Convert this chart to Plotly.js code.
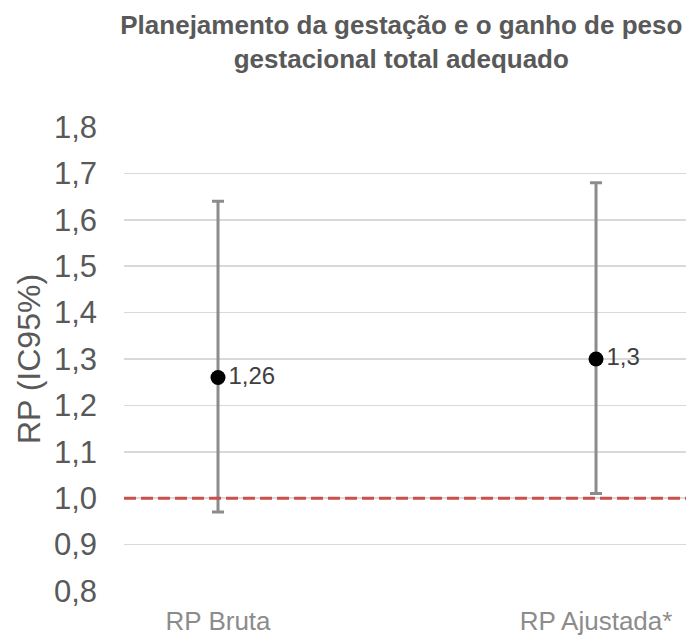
<!DOCTYPE html>
<html>
<head>
<meta charset="utf-8">
<script src="https://cdn.plot.ly/plotly-3.0.1.min.js"></script>
<style>
html,body{margin:0;padding:0;background:#fff;}
#chart{width:686px;height:637px;}
</style>
</head>
<body>
<div id="chart"></div>
<script>
const categories = ["RP Bruta", "RP Ajustada*"];
const rpValues = [1.26, 1.3];
const ciLower = [0.97, 1.01];
const ciUpper = [1.64, 1.68];
const valueLabels = ["1,26", "1,3"];
const referenceValue = [1.0];
const yTickVals = [0.8, 0.9, 1.0, 1.1, 1.2, 1.3, 1.4, 1.5, 1.6, 1.7, 1.8];
const yTickText = ["0,8", "0,9", "1,0", "1,1", "1,2", "1,3", "1,4", "1,5", "1,6", "1,7", "1,8"];

const xIdx = categories.map((c, i) => i);
const FONT = "Liberation Sans, Arial, sans-serif";

const trace = {
  type: "scatter",
  mode: "markers+text",
  x: xIdx,
  y: rpValues,
  text: valueLabels,
  textposition: "middle right",
  textfont: {family: FONT, size: 24, color: "#404040"},
  marker: {color: "#000000", size: 15},
  error_y: {
    type: "data",
    symmetric: false,
    array: rpValues.map((v, i) => ciUpper[i] - v),
    arrayminus: rpValues.map((v, i) => v - ciLower[i]),
    color: "#8c8c8c",
    thickness: 3,
    width: 6
  },
  cliponaxis: false,
  hoverinfo: "skip",
  showlegend: false
};

const layout = {
  width: 686,
  height: 637,
  margin: {l: 124, r: 0, t: 127, b: 46},
  paper_bgcolor: "#ffffff",
  plot_bgcolor: "#ffffff",
  font: {family: FONT, color: "#595959"},
  title: {
    text: "<b>Planejamento da gestação e o ganho de peso<br>gestacional total adequado</b>",
    font: {family: FONT, size: 26, color: "#595959"},
    x: 0.585,
    xanchor: "center",
    xref: "container",
    y: 0.946,
    yanchor: "top",
    yref: "container"
  },
  xaxis: {
    range: [-0.2487, 1.238],
    tickvals: xIdx,
    ticktext: categories,
    showgrid: false,
    zeroline: false,
    showline: false,
    ticks: "",
    tickfont: {family: FONT, size: 26, color: "#8c8c8c"},
    ticklabelstandoff: 12
  },
  yaxis: {
    range: [0.8, 1.8],
    tickvals: yTickVals,
    ticktext: yTickText,
    showgrid: true,
    gridcolor: "#d9d9d9",
    gridwidth: 1.5,
    zeroline: false,
    showline: false,
    ticks: "",
    tickfont: {family: FONT, size: 31, color: "#595959"},
    ticklabelstandoff: 26,
    title: {
      text: "RP (IC95%)",
      font: {family: FONT, size: 32, color: "#595959"},
      standoff: 3
    }
  },
  shapes: referenceValue.map(v => ({
    type: "line",
    xref: "paper",
    x0: 0, x1: 1,
    yref: "y",
    y0: v, y1: v,
    line: {color: "#c9504c", width: 3, dash: "12px,5px"},
    layer: "above"
  }))
};

Plotly.newPlot("chart", [trace], layout, {displayModeBar: false, staticPlot: true});
</script>
</body>
</html>
